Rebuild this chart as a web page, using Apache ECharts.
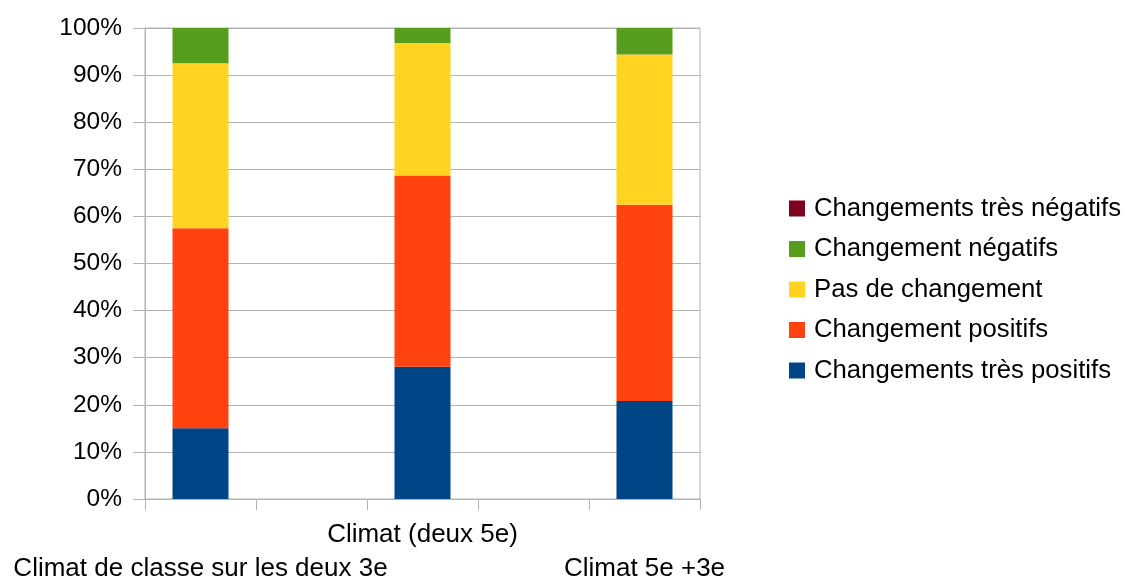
<!DOCTYPE html>
<html>
<head>
<meta charset="utf-8">
<script src="https://cdn.jsdelivr.net/npm/echarts@6/dist/echarts.min.js"></script>
<style>html,body{margin:0;padding:0;background:#fff;width:100%;height:100%;overflow:hidden}#c{width:100vw;height:100vh}</style>
</head>
<body>
<div id="c"></div>
<script>
// Categories (empty slots between groups, as in the original chart)
const categories = ['Climat de classe sur les deux 3e', '', 'Climat (deux 5e)', '', 'Climat 5e +3e'];
// Series values (percent of each bar)
const tresPositifs = [15, '-', 28.1, '-', 20.8];
const positifs     = [42.5, '-', 40.6, '-', 41.7];
const pasChangement= [35, '-', 28.1, '-', 31.9];
const negatifs     = [7.5, '-', 3.2, '-', 5.6];
const tresNegatifs = [0, '-', 0, '-', 0];
const yTicks = [0,10,20,30,40,50,60,70,80,90,100];

const seriesNames = ['Changements très positifs','Changement positifs','Pas de changement','Changement négatifs','Changements très négatifs'];
const seriesData = [tresPositifs, positifs, pasChangement, negatifs, tresNegatifs];
const colors = ['#004586','#ff420e','#ffd320','#579d1c','#7e0021'];

const font = 'Liberation Sans';
const el = document.getElementById('c');
const chart = echarts.init(el);
const H = el.clientHeight;
chart.setOption({
  animation: false,
  textStyle: {fontFamily: font},
  grid: {left: 145, right: 425, top: 28, bottom: H - 499, containLabel: false, outerBoundsMode: 'none',
         show: true, borderColor: '#b3b3b3', borderWidth: 1},
  legend: {
    orient: 'vertical', left: 789, top: 195.5, padding: 0, itemWidth: 16, itemHeight: 16, itemGap: 14.5,
    icon: 'rect',
    data: seriesNames.slice().reverse(),
    textStyle: {fontSize: 25.7, lineHeight: 25, color: '#000', fontFamily: font, padding: [0,0,0,4]}
  },
  xAxis: {
    type: 'category', data: categories,
    axisLine: {lineStyle: {color: '#b3b3b3'}},
    axisTick: {show: true, length: 11, lineStyle: {color: '#b3b3b3'}, alignWithLabel: false},
    axisLabel: {
      interval: 0, hideOverlap: false, color: '#000', fontSize: 26, fontFamily: font,
      margin: 19, lineHeight: 34,
      formatter: (v, i) => (i === 0 || i === 4) ? '\n' + v : v
    }
  },
  yAxis: {
    type: 'value', min: 0, max: 100, interval: 10,
    axisLine: {show: true, lineStyle: {color: '#b3b3b3'}},
    axisTick: {show: true, length: 12, lineStyle: {color: '#b3b3b3'}},
    splitLine: {lineStyle: {color: '#b3b3b3'}},
    axisLabel: {color: '#000', fontSize: 24.5, fontFamily: font, margin: 23, formatter: v => v + '%'}
  },
  series: seriesNames.map((n, i) => ({
    name: n, type: 'bar', stack: 'total', data: seriesData[i], barWidth: 56,
    itemStyle: {color: colors[i]}
  }))
});
</script>
</body>
</html>
